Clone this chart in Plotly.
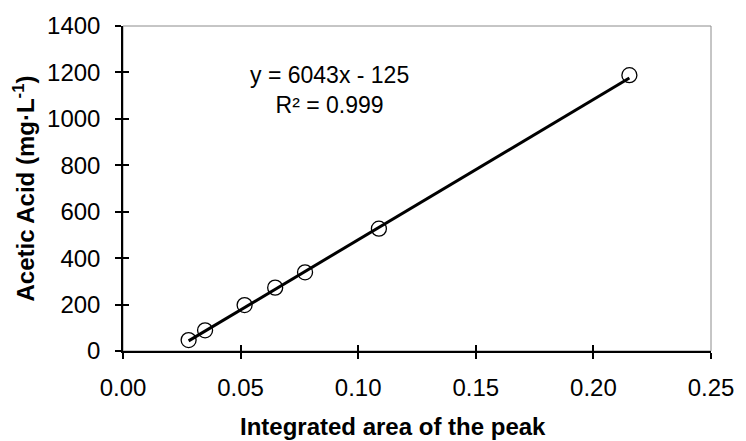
import plotly.graph_objects as go

# Data
peak_area = [0.0279, 0.0349, 0.0517, 0.0647, 0.0774, 0.1088, 0.2153]
acetic_acid = [47, 89, 198, 273, 339, 527, 1188]
slope = 6043
intercept = -125
equation_lines = ["y = 6043x - 125", "R² = 0.999"]
x_ticks = [0.00, 0.05, 0.10, 0.15, 0.20, 0.25]
y_ticks = [0, 200, 400, 600, 800, 1000, 1200, 1400]
x_title = "<b>Integrated area of the peak</b>"
y_title = "<b>Acetic Acid (mg·L<sup>-1</sup>)</b>"

FONT = "Liberation Sans, Arial, sans-serif"

trend_x = [min(peak_area), max(peak_area)]
trend_y = [slope * v + intercept for v in trend_x]

fig = go.Figure()
fig.add_trace(go.Scatter(x=trend_x, y=trend_y, mode="lines",
                         line=dict(color="black", width=3), showlegend=False,
                         hoverinfo="skip"))
fig.add_trace(go.Scatter(x=peak_area, y=acetic_acid, mode="markers",
                         marker=dict(symbol="circle-open", size=15,
                                     color="black", line=dict(width=1.3, color="black")),
                         showlegend=False))
# invisible trace on overlay axes (for inside tick marks)
fig.add_trace(go.Scatter(x=[None], y=[None], xaxis="x2", yaxis="y2",
                         showlegend=False, hoverinfo="skip"))

axis_common = dict(showgrid=False, zeroline=False)

fig.update_layout(
    width=746, height=441,
    margin=dict(l=123, r=26, t=21, b=90),
    plot_bgcolor="white", paper_bgcolor="white",
    font=dict(family=FONT, size=24, color="black"),
    xaxis=dict(range=[0, 0.25], tickvals=x_ticks, tickformat=".2f",
               ticks="outside", ticklen=6, tickwidth=1.5, tickcolor="black",
               showline=True, linecolor="black", linewidth=1.5,
               ticklabelstandoff=8, tickfont=dict(size=24),
               **axis_common),
    yaxis=dict(range=[0, 1400], tickvals=y_ticks,
               ticks="outside", ticklen=6, tickwidth=1.5, tickcolor="black",
               showline=True, linecolor="black", linewidth=1.5,
               ticklabelstandoff=10, tickfont=dict(size=24),
               **axis_common),
    xaxis2=dict(range=[0, 0.25], tickvals=x_ticks, overlaying="x", anchor="y2",
                side="bottom", ticks="inside", ticklen=6, tickwidth=1.5,
                tickcolor="black", showticklabels=False, showline=False,
                **axis_common),
    yaxis2=dict(range=[0, 1400], tickvals=y_ticks, overlaying="y", anchor="x2",
                side="left", ticks="inside", ticklen=6, tickwidth=1.5,
                tickcolor="black", showticklabels=False, showline=False,
                **axis_common),
    shapes=[dict(type="rect", xref="paper", yref="paper", x0=0, x1=1, y0=0, y1=1,
                 line=dict(color="#8c8c8c", width=1), layer="below")],
    annotations=[
        dict(x=0.0879, y=1125, xref="x", yref="y",
             text="<br>".join(equation_lines), showarrow=False,
             align="center", font=dict(size=23)),
        dict(x=0.459, y=-0.233, xref="paper", yref="paper", text=x_title,
             showarrow=False, xanchor="center", yanchor="middle",
             font=dict(size=24)),
        dict(x=-0.170, y=0.5, xref="paper", yref="paper", text=y_title,
             showarrow=False, textangle=-90, xanchor="center", yanchor="middle",
             font=dict(size=24)),
    ],
)

fig.write_html("out.html")
